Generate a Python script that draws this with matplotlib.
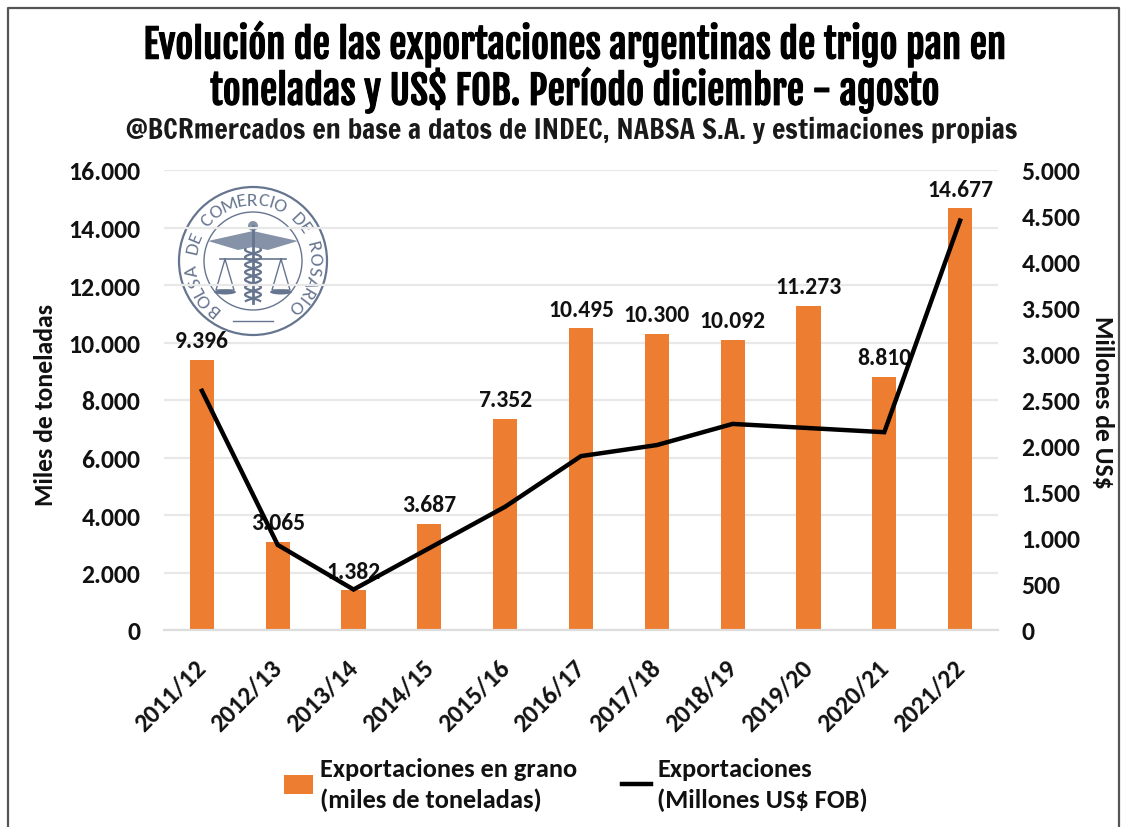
import numpy as np
import matplotlib
matplotlib.use('Agg')
import matplotlib.pyplot as plt
import matplotlib.patheffects as pe
from matplotlib.font_manager import FontProperties
from matplotlib.patches import Circle, Polygon, Ellipse
from matplotlib.textpath import TextPath
from matplotlib.transforms import ScaledTranslation

campanas = ['2011/12', '2012/13', '2013/14', '2014/15', '2015/16', '2016/17',
            '2017/18', '2018/19', '2019/20', '2020/21', '2021/22']
toneladas = [9396, 3065, 1382, 3687, 7352, 10495, 10300, 10092, 11273, 8810, 14677]
fob = [2600, 925, 440, 890, 1340, 1890, 2010, 2240, 2195, 2150, 4450]
etiquetas = ['9.396', '3.065', '1.382', '3.687', '7.352', '10.495',
             '10.300', '10.092', '11.273', '8.810', '14.677']
ticks_izq = [0, 2000, 4000, 6000, 8000, 10000, 12000, 14000, 16000]
ticks_der = [0, 500, 1000, 1500, 2000, 2500, 3000, 3500, 4000, 4500, 5000]


# miles con punto, como en el original
def miles(v):
    return f'{v:,}'.replace(',', '.')


W, H = 1130, 828
TITULO = ['Fjalla One', 'Liberation Sans']
SUBT = ['Francois One', 'Liberation Sans']
plt.rcParams['font.family'] = ['Carlito', 'Lato', 'DejaVu Sans']
NEGRO = '#111111'
ESCUDO = '#66758f'
grueso = [pe.withStroke(linewidth=0.8, foreground='black')]

fig = plt.figure(figsize=(W / 100, H / 100), dpi=100, facecolor='white')
ax = fig.add_axes([164 / W, 1 - 631 / H, (998 - 164) / W, (631 - 171) / H])
ax.set_zorder(2)
ax.patch.set_alpha(0)

x = np.arange(len(campanas))
barras = ax.bar(x, toneladas, width=0.32, color='#ed7d31', zorder=2)
ax.set_xlim(-0.5, len(campanas) - 0.5)
ax.set_ylim(0, 16000)
ax.set_yticks(ticks_izq)
ax.set_yticklabels([miles(v) for v in ticks_izq], fontsize=18.5, fontweight='bold', color=NEGRO)
ax.set_xticks(x)
ax.set_xticklabels(campanas, rotation=45, ha='right', rotation_mode='anchor',
                   fontsize=18.5, fontweight='bold', color=NEGRO)
ax.tick_params(axis='both', length=0)
ax.tick_params(axis='y', pad=17)
ax.tick_params(axis='x', pad=18)
desplaza = ScaledTranslation(-8 / 100, 0, fig.dpi_scale_trans)
for lab in ax.get_xticklabels():
    lab.set_transform(lab.get_transform() + desplaza)
ax.grid(axis='y', color='#e8e8e8', lw=1.6, zorder=0)
ax.set_axisbelow(True)
for s in ['top', 'left', 'right']:
    ax.spines[s].set_visible(False)
ax.spines['bottom'].set_color('#dddddd')
ax.spines['bottom'].set_linewidth(1.6)

for xi, v, et in zip(x, toneladas, etiquetas):
    ax.annotate(et, (xi, v), xytext=(0, 9), textcoords='offset points', ha='center',
                va='baseline', fontsize=17, fontweight='bold', color=NEGRO, zorder=1)

ax2 = ax.twinx()
ax2.set_zorder(3)
linea, = ax2.plot(x, fob, color='black', lw=3.2, solid_joinstyle='miter')
ax2.set_ylim(0, 5000)
ax2.set_yticks(ticks_der)
ax2.set_yticklabels([miles(v) for v in ticks_der], fontsize=18.5, fontweight='bold', color=NEGRO)
ax2.tick_params(axis='y', length=0, pad=17)
for s in ax2.spines.values():
    s.set_visible(False)

# capa en pixeles para titulos, marco y escudo
ov = fig.add_axes([0, 0, 1, 1], zorder=1)
ov.set_xlim(0, W)
ov.set_ylim(H, 0)
ov.axis('off')
ov.plot([8, 8, 1119, 1119], [H, 9, 9, H], color='#555555', lw=1.6)

ov.text(574, 45, 'Evolución de las exportaciones argentinas de trigo pan en', ha='center', va='center',
        family=TITULO, fontsize=28, color='black', path_effects=grueso)
ov.text(574, 91, 'toneladas y US$ FOB. Período diciembre - agosto', ha='center', va='center',
        family=TITULO, fontsize=28, color='black', path_effects=grueso)
ov.text(572, 130, '@BCRmercados en base a datos de INDEC, NABSA S.A. y estimaciones propias',
        ha='center', va='center', family=SUBT, fontsize=20.2, color='#1a1a1a')

ov.text(46, 405, 'Miles de toneladas', rotation=90, ha='center', va='center',
        fontsize=18.5, fontweight='bold', color=NEGRO)
ov.text(1103, 402, 'Millones de US$', rotation=270, ha='center', va='center',
        fontsize=18.5, fontweight='bold', color=NEGRO)

# escudo de la bolsa
cx, cy = 253, 262
ov.add_patch(Circle((cx, cy), 74, fc='white', ec=ESCUDO, lw=1.6))
ov.add_patch(Circle((cx, cy), 49, fc='white', ec=ESCUDO, lw=1.0))
texto = 'BOLSA DE COMERCIO DE ROSARIO'
fp = FontProperties(family='Carlito', size=14)
anchos = [TextPath((0, 0), ch if ch != ' ' else 'n', prop=fp).get_extents().width + 1.5 for ch in texto]
acum = np.cumsum(anchos) - np.array(anchos) / 2
angulos = -140 + 276 * (acum - acum[0]) / (acum[-1] - acum[0])
for ch, ang in zip(texto, angulos):
    r = np.radians(ang)
    ov.text(cx + 61.5 * np.sin(r), cy - 61.5 * np.cos(r), ch, rotation=-ang, ha='center', va='center',
            rotation_mode='anchor', fontsize=14, color=ESCUDO)
for sgn in [-1, 1]:
    ov.add_patch(Polygon([(cx, cy - 30), (cx + sgn * 45, cy - 20), (cx + sgn * 15, cy - 11), (cx, cy - 14)],
                         fc='#8592a8', ec='none'))
    ov.plot([cx + sgn * 28, cx + sgn * 19, cx + sgn * 37, cx + sgn * 28],
            [cy - 2, cy + 29, cy + 29, cy - 2], color=ESCUDO, lw=1.0)
    ov.add_patch(Ellipse((cx + sgn * 28, cy + 31), 22, 5, fc=ESCUDO, ec='none'))
ov.plot([cx - 33, cx + 33], [cy - 2, cy - 2], color=ESCUDO, lw=1.2)
ov.plot([cx, cx], [cy - 35, cy + 42], color=ESCUDO, lw=2)
ov.add_patch(Circle((cx, cy - 35), 5, fc='#8592a8', ec='none'))
t = np.linspace(-12, 40, 120)
ov.plot(cx + 8 * np.sin(t * 0.42), cy + t, color=ESCUDO, lw=1.6)
ov.plot(cx - 8 * np.sin(t * 0.42), cy + t, color=ESCUDO, lw=1.6)
ov.plot([cx - 20, cx + 20], [cy + 60, cy + 60], color=ESCUDO, lw=1.0)

leg = fig.legend([barras, linea], ['Exportaciones en grano\n(miles de toneladas)', 'Exportaciones\n(Millones US$ FOB)'],
                 ncol=2, loc='center left', bbox_to_anchor=(284 / W, 1 - 785 / H), frameon=False,
                 prop={'size': 19, 'weight': 'bold'}, handlelength=1.1, handletextpad=0.25,
                 columnspacing=1.7, labelspacing=0, borderpad=0, borderaxespad=0, alignment='left')
for tx in leg.get_texts():
    tx.set_color(NEGRO)
    tx.set_linespacing(1.38)

fig.savefig('out.png', dpi=100, facecolor='white')
plt.close(fig)
